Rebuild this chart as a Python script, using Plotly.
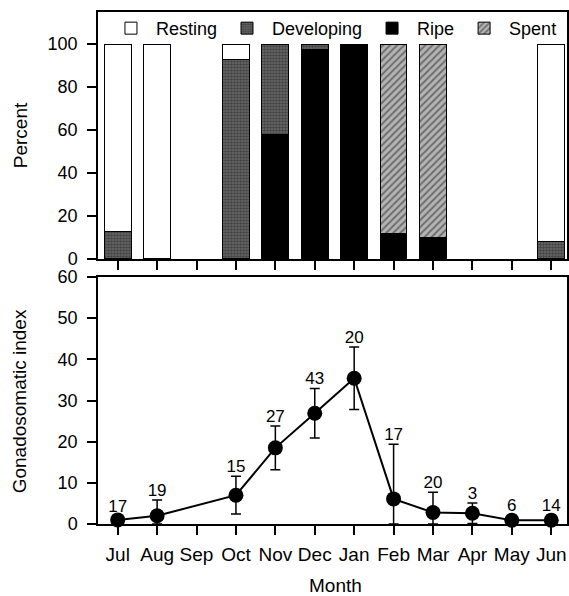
import plotly.graph_objects as go

months = ["Jul", "Aug", "Sep", "Oct", "Nov", "Dec", "Jan", "Feb", "Mar", "Apr", "May", "Jun"]

# Percent of each gonad stage (top panel)
resting    = [87, 100, None, 7, None, None, None, None, None, None, None, 92]
developing = [13, None, None, 93, 42, 2.5, None, None, None, None, None, 8]
ripe       = [None, None, None, None, 58, 97.5, 100, 12, 10, None, None, None]
spent      = [None, None, None, None, None, None, None, 88, 90, None, None, None]

# Gonadosomatic index (bottom panel)
gsi_mean  = [1.0, 2.0, None, 7.0, 18.5, 26.9, 35.4, 6.1, 2.8, 2.6, 0.9, 0.9]
gsi_err   = [1.0, 3.8, None, 4.6, 5.3, 6.0, 7.6, 13.3, 4.9, 2.5, 1.2, 1.2]
gsi_n     = ["17", "19", "", "15", "27", "43", "20", "17", "20", "3", "6", "14"]

FONT = "Liberation Sans, Arial, sans-serif"

fig = go.Figure()

line = dict(color="black", width=1)
# stacking order bottom -> top: Ripe, Spent, Developing, Resting
fig.add_trace(go.Bar(x=months, y=ripe, name="Ripe", legendrank=3,
                     marker=dict(color="black", line=line), xaxis="x", yaxis="y"))
fig.add_trace(go.Bar(x=months, y=spent, name="Spent", legendrank=4,
                     marker=dict(color="#a8a8a8", line=line,
                                 pattern=dict(shape="/", size=5, solidity=0.4,
                                              fgcolor="#262626", bgcolor="#b4b4b4")),
                     xaxis="x", yaxis="y"))
fig.add_trace(go.Bar(x=months, y=developing, name="Developing", legendrank=2,
                     marker=dict(color="#555555", line=line,
                                 pattern=dict(shape=".", size=3, solidity=0.55,
                                              fgcolor="#1e1e1e", bgcolor="#6a6a6a")),
                     xaxis="x", yaxis="y"))
fig.add_trace(go.Bar(x=months, y=resting, name="Resting", legendrank=1,
                     marker=dict(color="white", line=line), xaxis="x", yaxis="y"))

upper = [None if m is None else m + e for m, e in zip(gsi_mean, gsi_err)]
lower = [None if m is None else min(e, m) for m, e in zip(gsi_mean, gsi_err)]

fig.add_trace(go.Scatter(x=months, y=gsi_mean, mode="lines+markers", connectgaps=True,
                         line=dict(color="black", width=2),
                         marker=dict(color="black", size=15),
                         error_y=dict(type="data", array=gsi_err, arrayminus=lower,
                                      color="black", thickness=1.5, width=5),
                         showlegend=False, xaxis="x2", yaxis="y2", cliponaxis=False))
fig.add_trace(go.Scatter(x=months, y=upper, mode="text", text=gsi_n,
                         textposition="top center",
                         textfont=dict(size=17, color="black", family=FONT),
                         showlegend=False, xaxis="x2", yaxis="y2", cliponaxis=False))

axis_common = dict(showline=True, linecolor="black", linewidth=1.5, mirror=True,
                   ticks="outside", ticklen=9, tickwidth=1.5, tickcolor="black",
                   showgrid=False, zeroline=False,
                   tickfont=dict(size=19, color="black", family=FONT))
ytick_font = dict(size=18, color="black", family=FONT)

fig.update_layout(
    width=569, height=596,
    margin=dict(l=98, r=0, t=12, b=72),
    paper_bgcolor="white", plot_bgcolor="white",
    barmode="stack", bargap=0.32,
    font=dict(family=FONT, color="black", size=19),
    xaxis=dict(axis_common, type="category", range=[-0.5, 11.4], anchor="y",
               domain=[0, 1], showticklabels=False),
    yaxis=dict(axis_common, range=[0, 114.9], domain=[0.5176, 1], anchor="x",
               tickvals=[0, 20, 40, 60, 80, 100], ticklabelstandoff=6,
               tickfont=ytick_font),
    xaxis2=dict(axis_common, type="category", range=[-0.5, 11.4], anchor="y2",
                domain=[0, 1], ticklabelstandoff=3),
    yaxis2=dict(axis_common, range=[0, 60], domain=[0, 0.4824], anchor="x2",
                tickvals=[0, 10, 20, 30, 40, 50, 60], ticklabelstandoff=6,
                tickfont=ytick_font),
    legend=dict(orientation="h", x=(106 - 98) / 471, y=1.004, xanchor="left", yanchor="top",
                bgcolor="rgba(0,0,0,0)", font=dict(size=18, family=FONT),
                traceorder="normal", itemwidth=40),
    annotations=[
        dict(text="Percent", xref="paper", yref="paper", x=(21 - 98) / 471, y=0.76,
             textangle=-90, showarrow=False, xanchor="center", yanchor="middle",
             font=dict(size=19)),
        dict(text="Gonadosomatic index", xref="paper", yref="paper", x=(19 - 98) / 471,
             y=(524 - 401) / 512,
             textangle=-90, showarrow=False, xanchor="center", yanchor="middle",
             font=dict(size=19)),
        dict(text="Month", xref="paper", yref="paper", x=(337 - 98) / 471,
             y=-(585 - 524) / 512,
             showarrow=False, xanchor="center", yanchor="middle",
             font=dict(size=19)),
    ],
)

fig.write_html("out.html", config={"displayModeBar": False},
               post_script="document.body.style.margin='0';document.body.style.overflow='hidden';")
